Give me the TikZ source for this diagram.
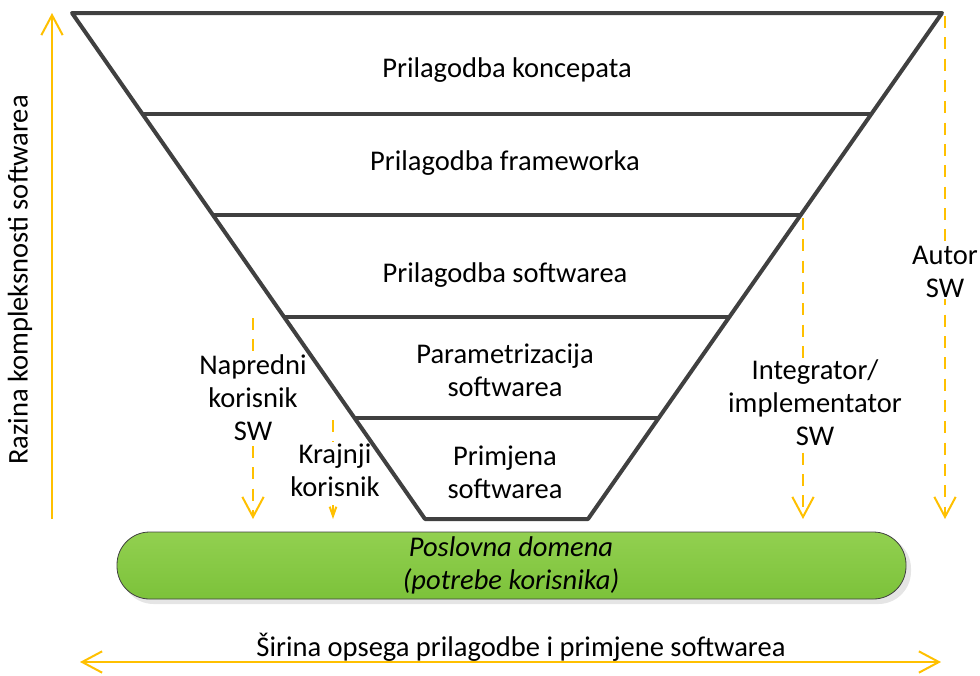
\documentclass[tikz,border=0pt]{standalone}
\usepackage{fontspec}
\setmainfont{Carlito}
\usetikzlibrary{arrows.meta,shadows,calc}
\definecolor{fun}{HTML}{404040}
\definecolor{ylw}{HTML}{FFC000}
\definecolor{gtop}{HTML}{92D050}
\definecolor{gbot}{HTML}{7CC23A}
\begin{document}
\begin{tikzpicture}[x=0.75pt,y=-0.75pt,
  lbl/.style={font=\fontsize{21.4}{24.75}\selectfont, align=center, inner sep=1pt},
  wlbl/.style={lbl, fill=white},
  funline/.style={draw=fun, line width=3pt},
  barb/.tip={Straight Barb[length=15pt,width=16pt]},
  yarrow/.style={draw=ylw, line width=1.5pt, -barb},
  ydash/.style={yarrow, dash pattern=on 9pt off 7pt}]
\useasboundingbox (0,0) rectangle (980,675);
% funnel corners
\coordinate (TL) at (72,13);
\coordinate (TR) at (942,13);
\coordinate (BL) at (425,519);
\coordinate (BR) at (588,519);
% axes
\coordinate (vy0) at (52,519);
\coordinate (vy1) at (52,13);
\draw[yarrow] (vy0) -- (vy1);
\node[lbl, rotate=90] (ylab) at (20,280) {Razina kompleksnosti softwarea};
\coordinate (hx0) at (80,662);
\coordinate (hx1) at (941,662);
\draw[yarrow, barb-barb] (hx0) -- (hx1);
\node[lbl] (xlab) at (521,647) {Širina opsega prilagodbe i primjene softwarea};
% dashed arrows
\coordinate (a0) at (945,16);
\coordinate (a1) at (945,519);
\coordinate (i0) at (803,218);
\coordinate (i1) at (803,519);
\coordinate (n0) at (253,318);
\coordinate (n1) at (253,519);
\coordinate (k0) at (333,420);
\coordinate (k1) at (333,519);
\draw[ydash] (a0) -- (a1);
\draw[ydash] (i0) -- (i1);
\draw[ydash] (n0) -- (n1);
\draw[draw=ylw, line width=1.5pt, dash pattern=on 9pt off 7pt, -{Straight Barb[length=7pt,width=5pt]}] (k0) -- (k1);
\node[wlbl] (autor) at (945,272) {Autor\\SW};
\node[wlbl] (integ) at (815,403) {Integrator/\\implementator\\SW};
\node[wlbl] (napr) at (253,398) {Napredni\\korisnik\\SW};
\node[wlbl] (kraj) at (335,470) {Krajnji\\korisnik};
% funnel
\draw[funline, line join=round] (TL) -- (TR) -- (BR) -- (BL) -- cycle;
\foreach \k in {0.2,0.4,0.6,0.8}{
  \draw[funline] ($(TL)!\k!(BL)$) -- ($(TR)!\k!(BR)$);
}
\node[lbl] (s1) at (507,70) {Prilagodba koncepata};
\node[lbl] (s2) at (505,163) {Prilagodba frameworka};
\node[lbl] (s3) at (505,275) {Prilagodba softwarea};
\node[lbl] (s4) at (505,370) {Parametrizacija\\softwarea};
\node[lbl] (s5) at (505,472) {Primjena\\softwarea};
% green bar
\fill[black!10, rounded corners=24.5pt] (121,536) rectangle (911,604);
\shade[top color=gtop, bottom color=gbot, draw=fun, line width=0.6pt, rounded corners=24.5pt] (117,532) rectangle (906,599);
\node[lbl, font=\fontsize{21.4}{24.75}\selectfont\itshape] (dom) at (511,565) {Poslovna domena\\(potrebe korisnika)};
\end{tikzpicture}
\end{document}
